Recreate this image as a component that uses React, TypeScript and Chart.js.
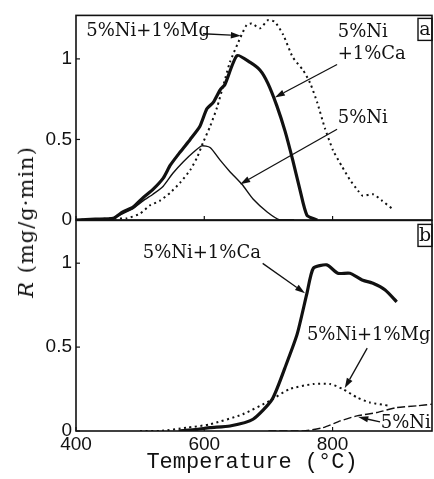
import React, { useEffect, useRef } from "react";
import { Chart, registerables } from "chart.js";

Chart.register(...registerables);

// ---------- data (temperature °C, R mg/g·min) ----------
// Panel a
const aCaT = [400, 430, 458, 473, 489, 505, 520, 536, 547, 562, 578, 593, 604, 614, 625, 632, 651, 671, 687, 699, 713, 726, 738, 749, 760, 776];
const aCaR = [0, 0.005, 0.01, 0.05, 0.08, 0.14, 0.19, 0.26, 0.34, 0.42, 0.5, 0.58, 0.69, 0.73, 0.81, 0.84, 1.02, 0.98, 0.93, 0.85, 0.71, 0.55, 0.37, 0.19, 0.03, 0];

const aMgT = [400, 460, 479, 500, 515, 531, 547, 562, 578, 589, 598, 609, 620, 630, 640, 656, 666, 674, 687, 699, 710, 723, 738, 754, 765, 776, 788, 801, 815, 827, 840, 847, 863, 877, 893];
const aMgR = [0, 0.01, 0.01, 0.04, 0.09, 0.12, 0.17, 0.23, 0.31, 0.39, 0.48, 0.58, 0.7, 0.84, 0.98, 1.13, 1.21, 1.22, 1.19, 1.24, 1.23, 1.15, 1.01, 0.93, 0.85, 0.73, 0.57, 0.43, 0.33, 0.25, 0.18, 0.15, 0.16, 0.12, 0.07];

const aNiT = [400, 430, 458, 473, 489, 505, 520, 536, 551, 567, 583, 596, 609, 625, 640, 659, 676, 698, 718, 740];
const aNiR = [0, 0.005, 0.01, 0.04, 0.07, 0.12, 0.16, 0.21, 0.29, 0.36, 0.42, 0.46, 0.45, 0.37, 0.3, 0.22, 0.13, 0.05, 0.0, 0];

// Panel b
const bCaT = [560, 589, 609, 640, 676, 706, 729, 745, 760, 770, 791, 808, 827, 846, 863, 882, 900];
const bCaR = [0, 0.01, 0.02, 0.03, 0.07, 0.19, 0.41, 0.58, 0.82, 0.97, 0.99, 0.94, 0.94, 0.9, 0.88, 0.84, 0.77];

const bMgT = [500, 531, 573, 609, 660, 702, 733, 770, 796, 816, 838, 858, 889];
const bMgR = [0, 0, 0.02, 0.04, 0.1, 0.18, 0.25, 0.28, 0.28, 0.25, 0.2, 0.17, 0.15];

const bNiT = [700, 754, 785, 812, 838, 869, 900, 932, 955];
const bNiR = [0, 0, 0.02, 0.06, 0.09, 0.11, 0.14, 0.15, 0.16];

// Axis ticks
const xTicks = [400, 600, 800];
const yTicks = [0, 0.5, 1];
const xMin = 400;
const xMax = 955;
const yMaxA = 1.27;
const yMaxB = 1.255;

// Annotations (data coordinates)
const labelsA = [
  { text: "5%Ni+1%Mg", t: 416, r: 1.174 },
  { text: "5%Ni", t: 808, r: 1.168 },
  { text: "+1%Ca", t: 808, r: 1.03 },
  { text: "5%Ni", t: 808, r: 0.629 },
];
const arrowsA = [
  [598, 1.156, 657, 1.144],
  [807, 0.965, 710, 0.761],
  [807, 0.563, 656, 0.222],
];
const labelsB = [
  { text: "5%Ni+1%Ca", t: 504, r: 1.059 },
  { text: "5%Ni+1%Mg", t: 760, r: 0.571 },
  { text: "5%Ni", t: 875, r: 0.048 },
];
const arrowsB = [
  [691, 0.999, 757, 0.821],
  [854, 0.494, 819, 0.256],
  [874, 0.054, 840, 0.083],
];

const pts = (t: number[], r: number[]) => t.map((x, i) => ({ x, y: r[i] }));

const SERIF = '"DejaVu Serif", "Liberation Serif", serif';
const SANS = '"Liberation Sans", Arial, sans-serif';

const decoPlugin = {
  id: "deco",
  afterDraw(chart: any, _args: any, opts: any) {
    const { ctx, chartArea: ca, scales } = chart;
    const xs = scales.x;
    const ys = scales.y;
    ctx.save();
    ctx.strokeStyle = "#111";
    ctx.fillStyle = "#111";
    ctx.lineWidth = 1.6;
    ctx.strokeRect(ca.left, ca.top, ca.right - ca.left, ca.bottom - ca.top);
    ctx.lineWidth = 1.2;
    for (const t of xTicks) {
      const px = xs.getPixelForValue(t);
      ctx.beginPath();
      ctx.moveTo(px, ca.bottom);
      ctx.lineTo(px, ca.bottom - 4);
      ctx.stroke();
    }
    for (const v of yTicks) {
      const py = ys.getPixelForValue(v);
      ctx.beginPath();
      ctx.moveTo(ca.left, py);
      ctx.lineTo(ca.left + 4, py);
      ctx.stroke();
    }
    // text labels
    ctx.font = `18px ${SERIF}`;
    ctx.textAlign = "left";
    ctx.textBaseline = "middle";
    for (const l of opts.labels || []) {
      ctx.fillText(l.text, xs.getPixelForValue(l.t), ys.getPixelForValue(l.r));
    }
    // arrows
    ctx.lineWidth = 1.3;
    for (const a of opts.arrows || []) {
      const x1 = xs.getPixelForValue(a[0]);
      const y1 = ys.getPixelForValue(a[1]);
      const x2 = xs.getPixelForValue(a[2]);
      const y2 = ys.getPixelForValue(a[3]);
      const ang = Math.atan2(y2 - y1, x2 - x1);
      const hl = 10;
      const hw = 3.2;
      const bx = x2 - hl * Math.cos(ang);
      const by = y2 - hl * Math.sin(ang);
      ctx.beginPath();
      ctx.moveTo(x1, y1);
      ctx.lineTo(bx, by);
      ctx.stroke();
      ctx.beginPath();
      ctx.moveTo(x2, y2);
      ctx.lineTo(bx + hw * Math.sin(ang), by - hw * Math.cos(ang));
      ctx.lineTo(bx - hw * Math.sin(ang), by + hw * Math.cos(ang));
      ctx.closePath();
      ctx.fill();
    }
    // panel tag box
    if (opts.tag) {
      const w = 14;
      const h = 22;
      const bx = ca.right - w;
      const by = ca.top + opts.tagOffset;
      ctx.lineWidth = 1.4;
      ctx.strokeRect(bx, by, w, h);
      ctx.font = `19px ${SERIF}`;
      ctx.textAlign = "center";
      ctx.textBaseline = "middle";
      ctx.fillText(opts.tag, bx + w / 2, by + h / 2 + 1);
    }
    ctx.restore();
  },
};

function makeOptions(yMax: number, showX: boolean, deco: any, padding: any) {
  return {
    responsive: false,
    animation: false,
    events: [],
    layout: { padding },
    plugins: {
      legend: { display: false },
      tooltip: { enabled: false },
      deco,
    },
    elements: { point: { radius: 0 }, line: { tension: 0.2 } },
    scales: {
      x: {
        type: "linear",
        min: xMin,
        max: xMax,
        display: showX,
        grid: { display: false, drawTicks: false },
        border: { display: false },
        ticks: {
          stepSize: 200,
          includeBounds: false,
          autoSkip: false,
          maxRotation: 0,
          padding: 2,
          color: "#111",
          font: { family: SANS, size: 19 },
          callback: (v: number) => (xTicks.includes(v) ? String(v) : ""),
        },
        afterFit: (s: any) => {
          s.height = showX ? 30 : 0;
        },
      },
      y: {
        type: "linear",
        min: 0,
        max: yMax,
        grid: { display: false, drawTicks: false },
        border: { display: false },
        ticks: {
          stepSize: 0.5,
          includeBounds: false,
          padding: 4,
          color: "#111",
          font: { family: SANS, size: 19 },
          callback: (v: number) => (yTicks.includes(v) ? String(v) : ""),
        },
        afterFit: (s: any) => {
          s.width = 76;
        },
      },
    },
  };
}

function datasets(ca: any, mg: any, ni: any, niDash: number[]) {
  return [
    {
      label: "5%Ni+1%Ca",
      data: ca,
      borderColor: "#111",
      borderWidth: 3.2,
      fill: false,
    },
    {
      label: "5%Ni+1%Mg",
      data: mg,
      borderColor: "#111",
      borderWidth: 2,
      borderDash: [2, 3.5],
      fill: false,
    },
    {
      label: "5%Ni",
      data: ni,
      borderColor: "#111",
      borderWidth: 1.4,
      borderDash: niDash,
      fill: false,
    },
  ];
}

function PanelChart(props: {
  top: number;
  height: number;
  build: () => any;
}) {
  const ref = useRef<HTMLCanvasElement | null>(null);
  useEffect(() => {
    if (!ref.current) return;
    const chart = new Chart(ref.current, props.build());
    return () => chart.destroy();
  }, []);
  return (
    <canvas
      ref={ref}
      width={434}
      height={props.height}
      style={{ position: "absolute", left: 0, top: props.top, width: 434, height: props.height }}
    />
  );
}

export default function App() {
  const buildA = () => ({
    type: "line",
    data: { datasets: datasets(pts(aCaT, aCaR), pts(aMgT, aMgR), pts(aNiT, aNiR), []) },
    options: makeOptions(yMaxA, false, { labels: labelsA, arrows: arrowsA, tag: "a", tagOffset: 3 }, { top: 8, right: 2, bottom: 20, left: 0 }),
    plugins: [decoPlugin],
  });
  const buildB = () => ({
    type: "line",
    data: { datasets: datasets(pts(bCaT, bCaR), pts(bMgT, bMgR), pts(bNiT, bNiR), [8, 3]) },
    options: makeOptions(yMaxB, true, { labels: labelsB, arrows: arrowsB, tag: "b", tagOffset: 4 }, { top: 15, right: 2, bottom: 18, left: 0 }),
    plugins: [decoPlugin],
  });
  return (
    <div style={{ position: "absolute", left: 0, top: 0, width: 434, height: 479, background: "#fff", overflow: "hidden" }}>
      <PanelChart top={0} height={240} build={buildA} />
      <PanelChart top={205} height={274} build={buildB} />
      <div
        style={{
          position: "absolute",
          left: 26,
          top: 222,
          transform: "translate(-50%, -50%) rotate(-90deg)",
          whiteSpace: "nowrap",
          fontFamily: SERIF,
          fontSize: 21,
          letterSpacing: 1,
          color: "#111",
        }}
      >
        <i>R</i> (mg/g·min)
      </div>
      <div
        style={{
          position: "absolute",
          left: 252,
          top: 462,
          transform: "translate(-50%, -50%)",
          whiteSpace: "nowrap",
          fontFamily: '"Liberation Mono", "DejaVu Sans Mono", monospace',
          fontSize: 22,
          color: "#111",
        }}
      >
        Temperature (°C)
      </div>
    </div>
  );
}
